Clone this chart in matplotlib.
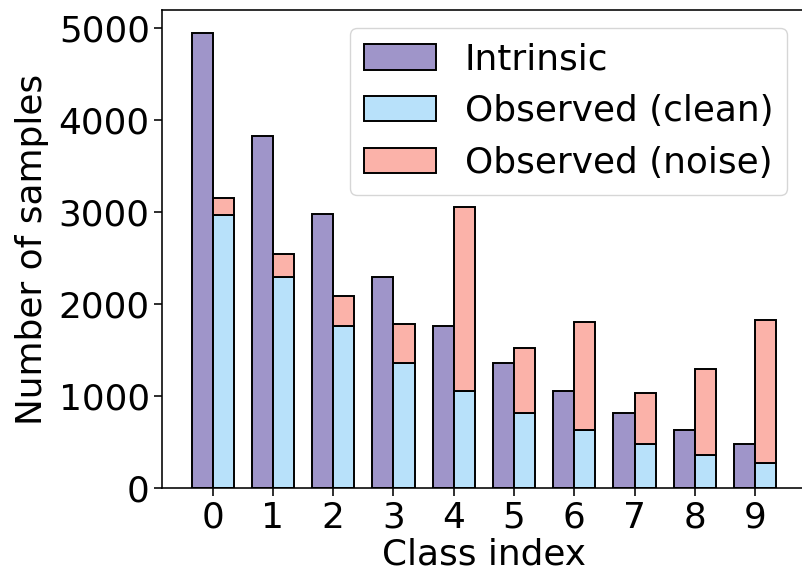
import matplotlib
matplotlib.use("Agg")
import matplotlib.pyplot as plt
import numpy as np

classes = [0, 1, 2, 3, 4, 5, 6, 7, 8, 9]
intrinsic = [4940, 3824, 2972, 2297, 1766, 1361, 1057, 813, 628, 483]
observed_clean = [2969, 2292, 1766, 1361, 1057, 813, 628, 483, 364, 277]
observed_noise = [184, 254, 325, 422, 1991, 710, 1177, 553, 932, 1550]

c_intr = "#9F95C9"
c_clean = "#B8E1FA"
c_noise = "#FBB2A9"

FS = 25.8
fig = plt.figure(figsize=(8.02, 5.75), dpi=100)
W, H = 802, 575
left, right, top, bottom = 162.3, 805.4, 10.3, 488.3
ax = fig.add_axes([left / W, 1 - bottom / H, (right - left) / W, (bottom - top) / H])

x = np.array(classes)
w = 0.35
lw = 1.4
ax.bar(x - w / 2, intrinsic, width=w, color=c_intr, edgecolor="black", linewidth=lw, label="Intrinsic")
ax.bar(x + w / 2, observed_clean, width=w, color=c_clean, edgecolor="black", linewidth=lw, label="Observed (clean)")
ax.bar(x + w / 2, observed_noise, width=w, bottom=observed_clean, color=c_noise, edgecolor="black",
       linewidth=lw, label="Observed (noise)")

ax.set_xticks(x)
ax.set_xticklabels([str(c) for c in classes])
ax.set_yticks([0, 1000, 2000, 3000, 4000, 5000])
ax.tick_params(labelsize=FS, length=5.5, width=1.15)
for s in ax.spines.values():
    s.set_linewidth(1.15)
ax.set_xlabel("Class index", fontsize=FS, labelpad=2)
ax.set_ylabel("Number of samples", fontsize=FS, labelpad=7)
ax.legend(loc="upper right", fontsize=FS)

fig.savefig("out.png", dpi=100)
